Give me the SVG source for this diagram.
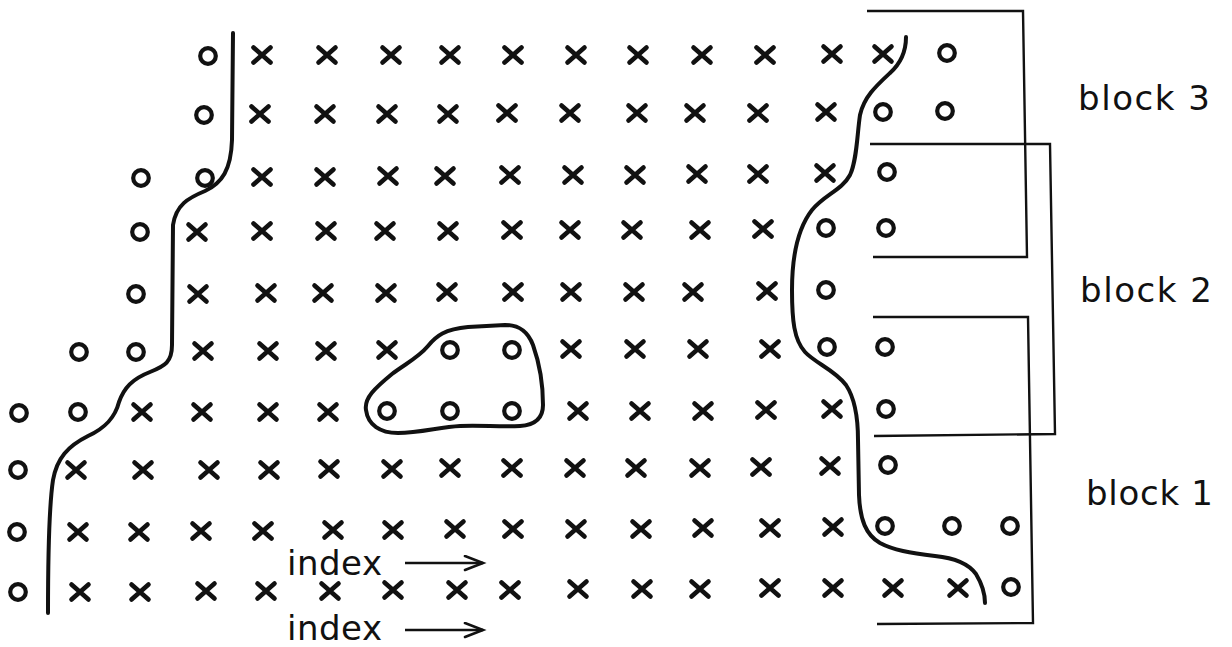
<svg xmlns="http://www.w3.org/2000/svg" xmlns:xlink="http://www.w3.org/1999/xlink" width="1232" height="647" viewBox="0 0 1232 647">
<style>
.mx{stroke:#111;stroke-width:4.6;stroke-linecap:round;fill:none}
.mo{stroke:#111;stroke-width:4.2;fill:none}
.curve{stroke:#111;stroke-width:4;fill:none;stroke-linecap:round;stroke-linejoin:round}
.br{stroke:#111;stroke-width:2.4;fill:none}
.arr{stroke:#111;stroke-width:2.6;fill:none}
.lbl{font-family:"DejaVu Sans",sans-serif;font-size:34px;fill:#111}
</style>
<defs>
<g id="x"><path class="mx" d="M-8.5,-7.5 L8.5,7.5 M-8.5,7.5 L8.5,-7.5"/></g>
<g id="o"><circle class="mo" r="7.8"/></g>
<marker id="ah" markerWidth="24" markerHeight="20" refX="20" refY="8" orient="auto" markerUnits="userSpaceOnUse">
<path d="M2,1 L20,8 L2,15" stroke="#111" stroke-width="2.6" fill="none" stroke-linecap="round"/>
</marker>
</defs>
<rect width="1232" height="647" fill="#fff"/>

<g id="row1">
<use href="#o" x="208" y="56"/>
<use href="#x" x="262" y="55"/><use href="#x" x="327" y="55"/><use href="#x" x="391" y="55"/><use href="#x" x="450" y="55"/><use href="#x" x="513" y="55"/><use href="#x" x="576" y="55"/><use href="#x" x="638" y="55"/><use href="#x" x="702" y="55"/><use href="#x" x="765" y="55"/><use href="#x" x="832" y="54"/><use href="#x" x="883" y="54"/>
<use href="#o" x="947" y="53"/>
</g>
<g id="row2">
<use href="#o" x="204" y="115"/>
<use href="#x" x="260" y="114"/><use href="#x" x="325" y="114"/><use href="#x" x="387" y="114"/><use href="#x" x="448" y="114"/><use href="#x" x="507" y="113"/><use href="#x" x="570" y="113"/><use href="#x" x="637" y="113"/><use href="#x" x="695" y="113"/><use href="#x" x="758" y="113"/><use href="#x" x="826" y="112"/>
<use href="#o" x="883" y="112"/><use href="#o" x="945" y="111"/>
</g>
<g id="row3">
<use href="#o" x="141" y="178"/><use href="#o" x="205" y="178"/>
<use href="#x" x="262" y="177"/><use href="#x" x="325" y="177"/><use href="#x" x="388" y="176"/><use href="#x" x="445" y="176"/><use href="#x" x="510" y="175"/><use href="#x" x="573" y="175"/><use href="#x" x="635" y="175"/><use href="#x" x="697" y="174"/><use href="#x" x="758" y="174"/><use href="#x" x="825" y="173"/>
<use href="#o" x="887" y="172"/>
</g>
<g id="row4">
<use href="#o" x="140" y="232"/>
<use href="#x" x="197" y="232"/><use href="#x" x="262" y="231"/><use href="#x" x="326" y="231"/><use href="#x" x="385" y="231"/><use href="#x" x="448" y="231"/><use href="#x" x="512" y="230"/><use href="#x" x="570" y="230"/><use href="#x" x="632" y="230"/><use href="#x" x="700" y="230"/><use href="#x" x="763" y="229"/>
<use href="#o" x="826" y="228"/><use href="#o" x="886" y="228"/>
</g>
<g id="row5">
<use href="#o" x="136" y="294"/>
<use href="#x" x="198" y="294"/><use href="#x" x="266" y="293"/><use href="#x" x="323" y="293"/><use href="#x" x="386" y="293"/><use href="#x" x="447" y="292"/><use href="#x" x="513" y="292"/><use href="#x" x="571" y="292"/><use href="#x" x="634" y="292"/><use href="#x" x="693" y="292"/><use href="#x" x="767" y="291"/>
<use href="#o" x="826" y="290"/>
</g>
<g id="row6">
<use href="#o" x="79" y="352"/><use href="#o" x="136" y="352"/>
<use href="#x" x="203" y="351"/><use href="#x" x="268" y="351"/><use href="#x" x="326" y="351"/><use href="#x" x="387" y="350"/>
<use href="#o" x="450" y="350"/><use href="#o" x="512" y="350"/>
<use href="#x" x="571" y="349"/><use href="#x" x="635" y="349"/><use href="#x" x="698" y="349"/><use href="#x" x="770" y="349"/>
<use href="#o" x="827" y="347"/><use href="#o" x="885" y="347"/>
</g>
<g id="row7">
<use href="#o" x="19" y="413"/><use href="#o" x="78" y="412"/>
<use href="#x" x="142" y="412"/><use href="#x" x="202" y="412"/><use href="#x" x="268" y="412"/><use href="#x" x="328" y="412"/>
<use href="#o" x="387" y="411"/><use href="#o" x="450" y="411"/><use href="#o" x="512" y="411"/>
<use href="#x" x="578" y="411"/><use href="#x" x="640" y="411"/><use href="#x" x="703" y="411"/><use href="#x" x="766" y="410"/><use href="#x" x="832" y="409"/>
<use href="#o" x="886" y="409"/>
</g>
<g id="row8">
<use href="#o" x="18" y="470"/>
<use href="#x" x="76" y="470"/><use href="#x" x="143" y="470"/><use href="#x" x="209" y="470"/><use href="#x" x="269" y="470"/><use href="#x" x="329" y="469"/><use href="#x" x="392" y="469"/><use href="#x" x="450" y="468"/><use href="#x" x="512" y="468"/><use href="#x" x="575" y="468"/><use href="#x" x="636" y="468"/><use href="#x" x="700" y="468"/><use href="#x" x="761" y="467"/><use href="#x" x="830" y="466"/>
<use href="#o" x="888" y="465"/>
</g>
<g id="row9">
<use href="#o" x="17" y="532"/>
<use href="#x" x="78" y="532"/><use href="#x" x="139" y="532"/><use href="#x" x="201" y="531"/><use href="#x" x="263" y="531"/><use href="#x" x="333" y="530"/><use href="#x" x="393" y="530"/><use href="#x" x="455" y="529"/><use href="#x" x="513" y="529"/><use href="#x" x="576" y="529"/><use href="#x" x="641" y="529"/><use href="#x" x="703" y="528"/><use href="#x" x="770" y="528"/><use href="#x" x="833" y="527"/>
<use href="#o" x="885" y="526"/><use href="#o" x="952" y="526"/><use href="#o" x="1010" y="526"/>
</g>
<g id="row10">
<use href="#o" x="18" y="592"/>
<use href="#x" x="80" y="592"/><use href="#x" x="140" y="592"/><use href="#x" x="206" y="591"/><use href="#x" x="266" y="591"/><use href="#x" x="330" y="591"/><use href="#x" x="393" y="590"/><use href="#x" x="457" y="590"/><use href="#x" x="510" y="590"/><use href="#x" x="578" y="589"/><use href="#x" x="642" y="589"/><use href="#x" x="700" y="589"/><use href="#x" x="770" y="588"/><use href="#x" x="833" y="588"/><use href="#x" x="893" y="588"/><use href="#x" x="958" y="588"/>
<use href="#o" x="1011" y="587"/>
</g>

<g id="curves">
<path class="curve" d="M233,33 L232,140 C231,170 222,183 205,191 C188,198 176,205 173,225 L172,345 C172,362 165,366 150,372 C132,379 124,388 119,402 C115,418 105,428 88,436 C68,446 57,458 53,480 C50,500 48,540 48,613"/>
<path class="curve" d="M906,37 C906,52 900,64 890,73 C876,86 864,97 860,115 C857,135 857,160 850,175 C842,190 824,195 812,210 C798,228 792,255 792,290 C792,320 794,340 805,352 C815,363 835,370 846,385 C856,400 858,420 858,440 L859,495 C860,520 866,535 880,543 C893,550 910,553 935,556 C955,558 968,563 976,574 C982,584 985,593 985,603"/>
<path class="curve" d="M366,410 C364,398 375,388 392,374 C405,364 418,358 428,346 C436,336 445,329 468,327 L505,325 C520,325 528,332 533,345 C539,362 543,385 543,405 C543,418 535,425 520,426 C500,427 480,425 460,426 C440,427 420,433 398,433 C380,433 368,425 366,410 Z"/>
</g>

<g id="block3">
<path class="br" d="M867,11 L1023,11 L1027,257 L873,257"/>
<text class="lbl" x="1078" y="110" textLength="132" lengthAdjust="spacing">block 3</text>
</g>
<g id="block2">
<path class="br" d="M870,144 L1050,144 L1055,434 L874,436"/>
<text class="lbl" x="1080" y="302" textLength="132" lengthAdjust="spacing">block 2</text>
</g>
<g id="block1">
<path class="br" d="M873,317 L1028,317 L1033,623 L877,624"/>
<text class="lbl" x="1086" y="505" textLength="127" lengthAdjust="spacing">block 1</text>
</g>

<g id="index-labels">
<text class="lbl" x="287" y="575" textLength="95" lengthAdjust="spacing">index</text>
<line class="arr" x1="405" y1="563" x2="483" y2="563" marker-end="url(#ah)"/>
<text class="lbl" x="287" y="640" textLength="95" lengthAdjust="spacing">index</text>
<line class="arr" x1="405" y1="630" x2="483" y2="630" marker-end="url(#ah)"/>
</g>
</svg>
